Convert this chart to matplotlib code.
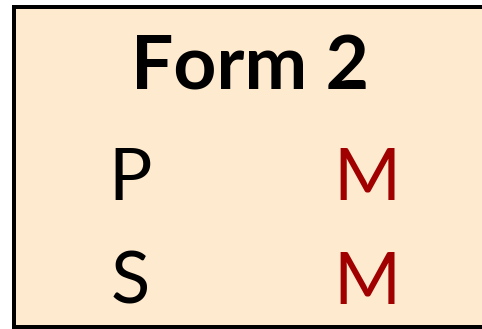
import matplotlib
matplotlib.use("Agg")
import matplotlib.pyplot as plt
from matplotlib.patches import Rectangle

title = "Form 2"
row_labels = ["P", "S"]
row_values = ["M", "M"]

W, H, DPI = 482, 329, 100
fig = plt.figure(figsize=(W / DPI, H / DPI), dpi=DPI)
fig.patch.set_facecolor("white")
ax = fig.add_axes([0, 0, 1, 1])
ax.set_xlim(0, W)
ax.set_ylim(H, 0)
ax.axis("off")

lw_px = 4
ax.add_patch(Rectangle((14, 7), 500, 319.5, facecolor="#FEEACF",
                       edgecolor="black", linewidth=lw_px * 72 / DPI))

font = "Lato"
ax.text(250, 89, title, ha="center", va="baseline", fontsize=54,
        fontweight="bold", family=font, color="black")

baselines = [200, 304]
for lab, val, yb in zip(row_labels, row_values, baselines):
    ax.text(130, yb, lab, ha="center", va="baseline", fontsize=52,
            family=font, color="black")
    ax.text(367, yb, val, ha="center", va="baseline", fontsize=52,
            family=font, color="#A00000")

fig.savefig("out.png", dpi=DPI)
